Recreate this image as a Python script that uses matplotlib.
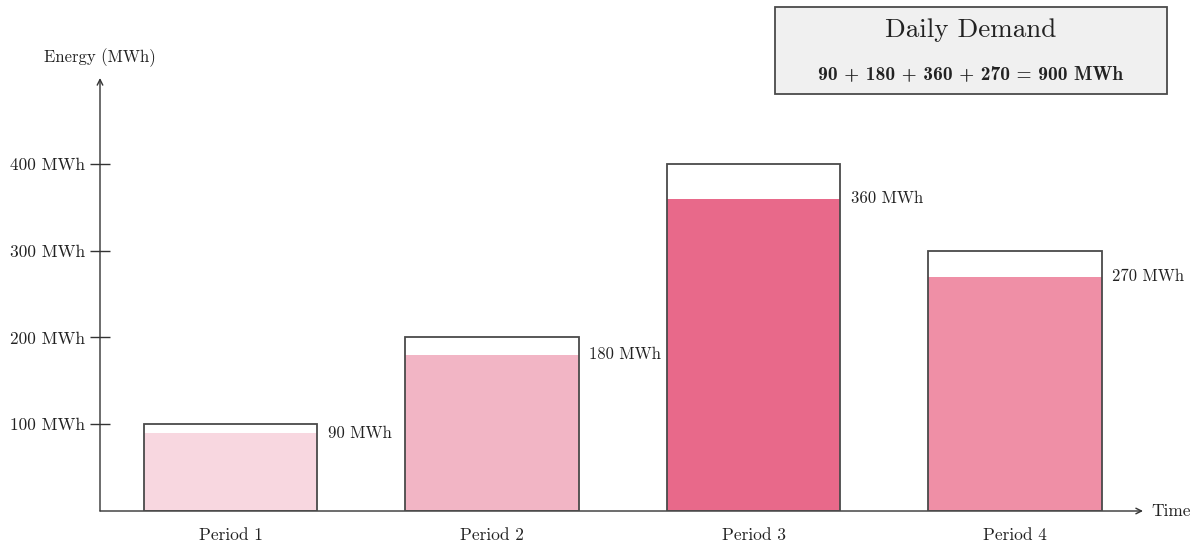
import matplotlib.pyplot as plt
from matplotlib.patches import FancyBboxPatch

periods = ["Period 1", "Period 2", "Period 3", "Period 4"]
demand = [90, 180, 360, 270]
capacity = [100, 200, 400, 300]
yticks = [100, 200, 300, 400]
colors = ["#f8d7e0", "#f2b5c5", "#e8698a", "#ef8fa6"]

plt.rcParams["font.family"] = ["cmr10", "DejaVu Serif"]
plt.rcParams["axes.formatter.use_mathtext"] = True

W, H = 1198, 548
fig = plt.figure(figsize=(W / 100, H / 100), dpi=100)
# axes placed in pixel coords: y axis at x=100, zero line at y=511
ax = fig.add_axes([100 / W, (H - 511) / H, (1143 - 100) / W, (511 - 78) / H])
ax.set_xlim(0.5, 4.49)
ax.set_ylim(0, 499)
for s in ax.spines.values():
    s.set_visible(False)

x = [1, 2, 3, 4]
# capacity box, demand fill, then outline on top
ax.bar(x, capacity, width=0.663, color="white", linewidth=0, zorder=2)
ax.bar(x, demand, width=0.663, color=colors, linewidth=0, zorder=3)
ax.bar(x, capacity, width=0.663, fill=False, edgecolor="#4a4a4a", linewidth=1.3, zorder=4)

for xi, d in zip(x, demand):
    ax.text(xi + 0.663 / 2 + 0.04, d, f"{d} MWh", ha="left", va="center", fontsize=12, color="#222222")

# axes arrows
ax.annotate("", xy=(0, 1), xytext=(0, 0), xycoords="axes fraction",
            arrowprops=dict(arrowstyle="->", color="#333333", lw=1.0, shrinkA=0, shrinkB=0))
ax.annotate("", xy=(1, 0), xytext=(0, 0), xycoords="axes fraction",
            arrowprops=dict(arrowstyle="->", color="#333333", lw=1.0, shrinkA=0, shrinkB=0))
ax.text(0, 1.025, "Energy (MWh)", transform=ax.transAxes, ha="center", va="bottom", fontsize=12, color="#222222")
ax.text(1.008, 0, "Time", transform=ax.transAxes, ha="left", va="center", fontsize=12.5, color="#222222")

ax.set_yticks(yticks)
ax.set_yticklabels([f"{v} MWh" for v in yticks], fontsize=12.5, color="#222222")
ax.tick_params(axis="y", direction="inout", length=14, width=1.0, color="#333333", pad=4)
ax.set_xticks(x)
ax.set_xticklabels(periods, fontsize=12.5, color="#222222")
ax.tick_params(axis="x", length=0, pad=12)

# title box
box = FancyBboxPatch((775 / W, (H - 94) / H), (1167 - 775) / W, (94 - 7) / H,
                     boxstyle="square,pad=0", transform=fig.transFigure,
                     facecolor="#f0f0f0", edgecolor="#4a4a4a", linewidth=1.3)
fig.patches.append(box)
fig.text(971 / W, (H - 30) / H, "Daily Demand", ha="center", va="center", fontsize=19.5, color="#222222")
fig.text(971 / W, (H - 74) / H, "90 + 180 + 360 + 270 = 900 MWh", ha="center", va="center",
         fontsize=14, family=["cmb10", "DejaVu Serif"], color="#222222")

fig.savefig("out.png", dpi=100)
